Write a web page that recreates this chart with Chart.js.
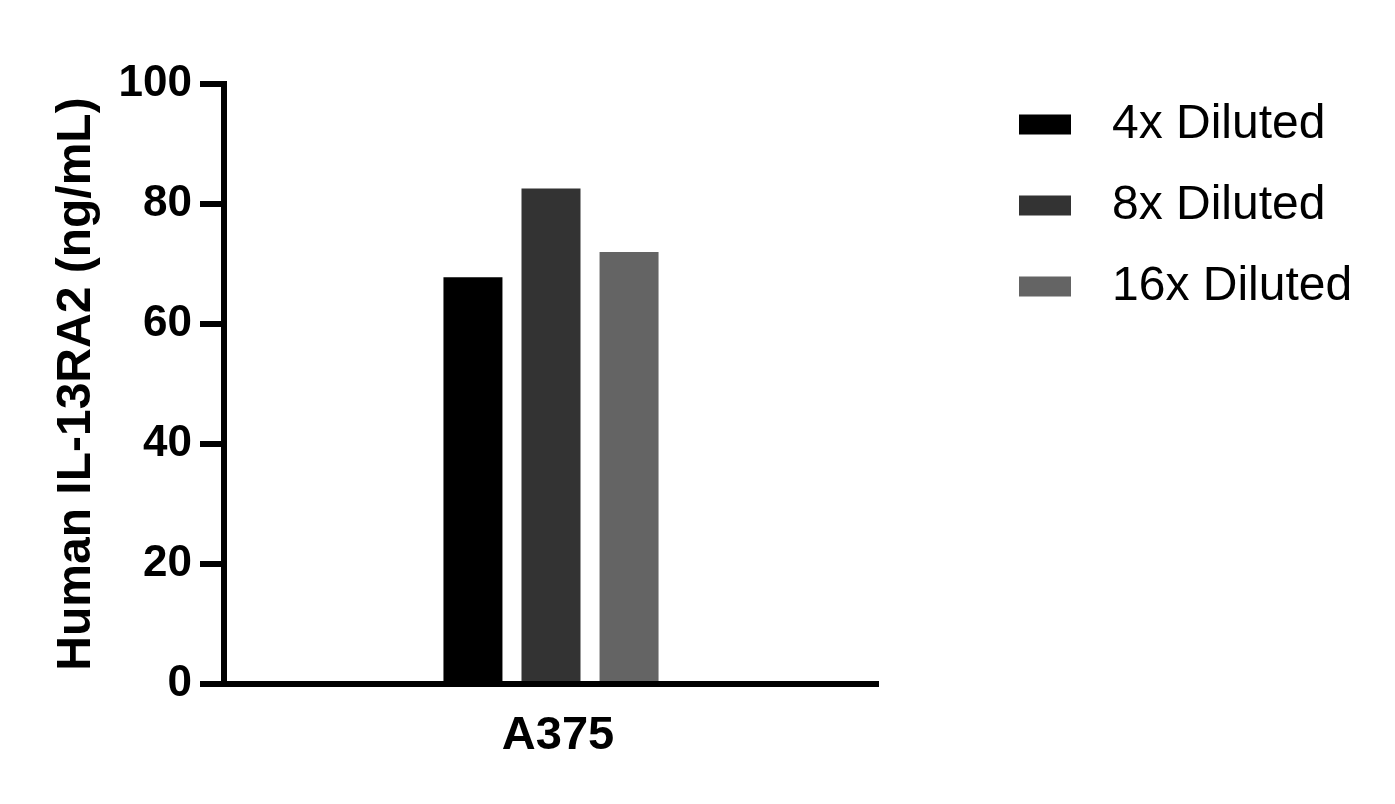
<!DOCTYPE html>
<html>
<head>
<meta charset="utf-8">
<script src="https://cdn.jsdelivr.net/npm/chart.js@4.4.1/dist/chart.umd.min.js"></script>
<style>
  html, body { margin: 0; padding: 0; background: #ffffff; }
  #wrap { width: 1395px; height: 804px; }
</style>
</head>
<body>
<div id="wrap"><canvas id="c" width="1395" height="804"></canvas></div>
<script>
const categories = ['A375'];
const seriesLabels = ['4x Diluted', '8x Diluted', '16x Diluted'];
const series4x = [67.8];
const series8x = [82.6];
const series16x = [72.0];
const yTicks = [0, 20, 40, 60, 80, 100];
const yTitle = 'Human IL-13RA2 (ng/mL)';
const seriesColors = ['#000000', '#333333', '#646464'];

const FONT = "'Liberation Sans', Arial, Helvetica, sans-serif";

const legendPlugin = {
  id: 'sideLegend',
  afterDraw(chart, args, opts) {
    const ctx = chart.ctx;
    ctx.save();
    chart.data.datasets.forEach((ds, i) => {
      const cy = opts.y + i * opts.spacing;
      ctx.fillStyle = ds.backgroundColor;
      ctx.fillRect(opts.x, cy - opts.boxH / 2, opts.boxW, opts.boxH);
      ctx.fillStyle = '#000000';
      ctx.font = opts.font;
      ctx.textBaseline = 'middle';
      ctx.textAlign = 'left';
      ctx.fillText(ds.label, opts.textX, cy);
    });
    ctx.restore();
  }
};

const seriesData = [series4x, series8x, series16x];

new Chart(document.getElementById('c'), {
  type: 'bar',
  data: {
    labels: categories,
    datasets: seriesLabels.map((lab, i) => ({
      label: lab,
      data: seriesData[i],
      backgroundColor: seriesColors[i],
      borderWidth: 0,
      categoryPercentage: 0.358,
      barPercentage: 0.756
    }))
  },
  options: {
    responsive: false,
    animation: false,
    devicePixelRatio: 1,
    layout: { padding: { left: 40, right: 517, top: 84, bottom: 0 } },
    plugins: {
      legend: { display: false },
      tooltip: { enabled: false },
      sideLegend: {
        x: 1019, textX: 1112, y: 124.5, spacing: 81, boxW: 52, boxH: 20,
        font: "48px " + FONT
      }
    },
    scales: {
      x: {
        grid: { display: false },
        border: { display: true, width: 6, color: '#000000' },
        ticks: {
          color: '#000000',
          padding: 16,
          labelOffset: 7,
          font: { family: FONT, size: 47, weight: 'bold' }
        },
        afterFit(scale) { scale.height = 120; }
      },
      y: {
        min: 0,
        max: 100,
        afterBuildTicks(scale) { scale.ticks = yTicks.map(v => ({ value: v })); },
        grid: {
          drawOnChartArea: false,
          drawTicks: true,
          tickLength: 24,
          tickWidth: 6,
          lineWidth: 6,
          tickColor: '#000000',
          color: '#000000'
        },
        border: { display: true, width: 6, color: '#000000' },
        ticks: {
          color: '#000000',
          padding: 8,
          font: { family: FONT, size: 44, weight: 'bold' }
        },
        title: {
          display: true,
          text: yTitle,
          color: '#000000',
          padding: { top: 13, bottom: 0 },
          font: { family: FONT, size: 48, weight: 'bold', lineHeight: 1 }
        },
        afterFit(scale) { scale.width = 224 - 40; }
      }
    }
  },
  plugins: [legendPlugin]
});
</script>
</body>
</html>
